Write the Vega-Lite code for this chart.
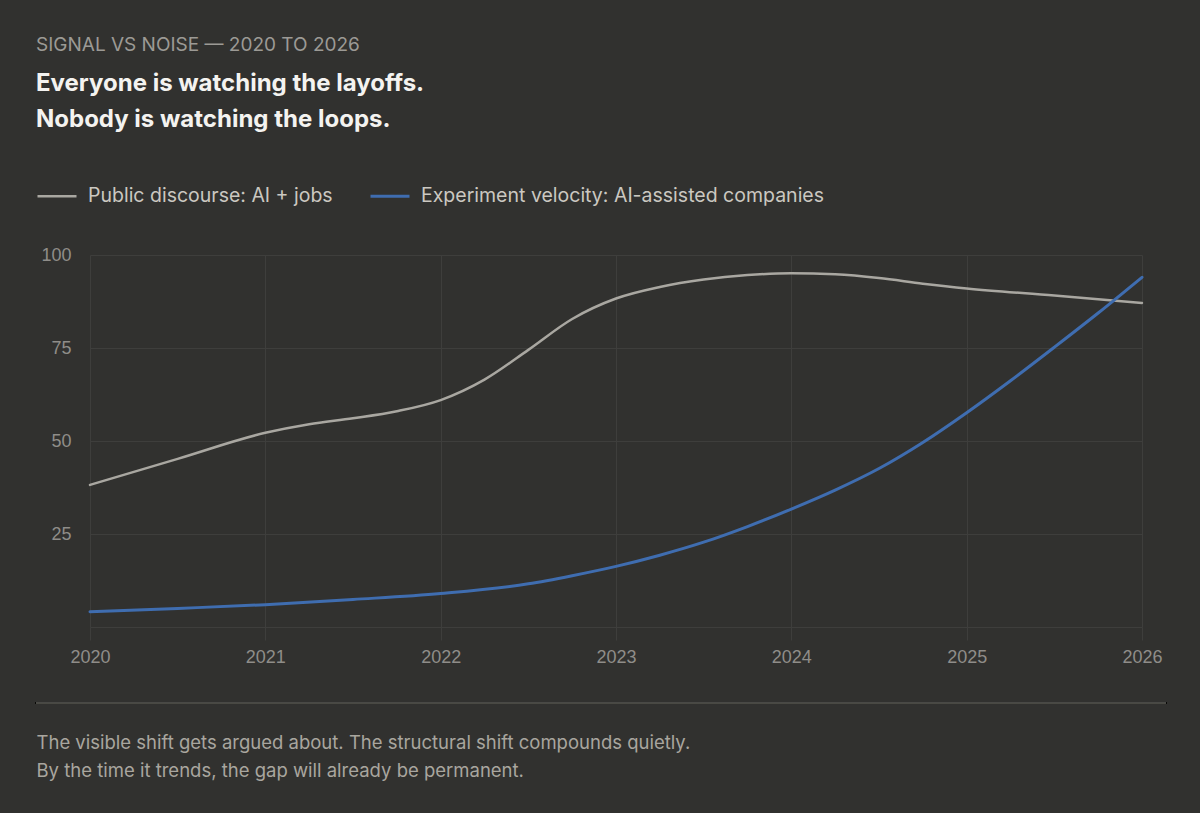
{
  "$schema": "https://vega.github.io/schema/vega-lite/v6.json",
  "description": "Public discourse on AI and jobs versus experiment velocity at AI-assisted companies, 2020 to 2026.",
  "autosize": {"type": "none"},
  "width": 1052,
  "height": 372,
  "padding": {"left": 90, "top": 255, "right": 58, "bottom": 186},
  "background": "#31312f",
  "title": {
    "text": "SIGNAL VS NOISE — 2020 TO 2026",
    "subtitle": ["Everyone is watching the layoffs.", "Nobody is watching the loops."],
    "anchor": "start",
    "frame": "group",
    "dx": -54,
    "offset": 43,
    "font": "Inter",
    "fontSize": 19,
    "fontWeight": "normal",
    "color": "#9c9a95",
    "subtitleFont": "Inter",
    "subtitleFontSize": 24,
    "subtitleFontWeight": "bold",
    "subtitleColor": "#f4f3f0",
    "subtitlePadding": 17,
    "subtitleLineHeight": 36
  },
  "data": {
    "values": [
      {"year": 2020, "series": "Public discourse: AI + jobs", "value": 38.2},
      {"year": 2020.5, "series": "Public discourse: AI + jobs", "value": 45.2},
      {"year": 2021, "series": "Public discourse: AI + jobs", "value": 52.2},
      {"year": 2021.25, "series": "Public discourse: AI + jobs", "value": 54.5},
      {"year": 2021.5, "series": "Public discourse: AI + jobs", "value": 56.1},
      {"year": 2021.75, "series": "Public discourse: AI + jobs", "value": 58},
      {"year": 2022, "series": "Public discourse: AI + jobs", "value": 61},
      {"year": 2022.25, "series": "Public discourse: AI + jobs", "value": 66.5},
      {"year": 2022.5, "series": "Public discourse: AI + jobs", "value": 74.5},
      {"year": 2022.75, "series": "Public discourse: AI + jobs", "value": 82.8},
      {"year": 2023, "series": "Public discourse: AI + jobs", "value": 88.3},
      {"year": 2023.25, "series": "Public discourse: AI + jobs", "value": 91.4},
      {"year": 2023.5, "series": "Public discourse: AI + jobs", "value": 93.4},
      {"year": 2023.75, "series": "Public discourse: AI + jobs", "value": 94.6},
      {"year": 2024, "series": "Public discourse: AI + jobs", "value": 95.1},
      {"year": 2024.25, "series": "Public discourse: AI + jobs", "value": 94.8},
      {"year": 2024.5, "series": "Public discourse: AI + jobs", "value": 93.8},
      {"year": 2024.75, "series": "Public discourse: AI + jobs", "value": 92.3},
      {"year": 2025, "series": "Public discourse: AI + jobs", "value": 91},
      {"year": 2025.5, "series": "Public discourse: AI + jobs", "value": 89.1},
      {"year": 2026, "series": "Public discourse: AI + jobs", "value": 87.1},
      {"year": 2020, "series": "Experiment velocity: AI-assisted companies", "value": 4.1},
      {"year": 2020.5, "series": "Experiment velocity: AI-assisted companies", "value": 5},
      {"year": 2021, "series": "Experiment velocity: AI-assisted companies", "value": 6},
      {"year": 2021.5, "series": "Experiment velocity: AI-assisted companies", "value": 7.4},
      {"year": 2022, "series": "Experiment velocity: AI-assisted companies", "value": 9},
      {"year": 2022.5, "series": "Experiment velocity: AI-assisted companies", "value": 11.6},
      {"year": 2022.75, "series": "Experiment velocity: AI-assisted companies", "value": 13.8},
      {"year": 2023, "series": "Experiment velocity: AI-assisted companies", "value": 16.3},
      {"year": 2023.25, "series": "Experiment velocity: AI-assisted companies", "value": 19.3},
      {"year": 2023.5, "series": "Experiment velocity: AI-assisted companies", "value": 22.8},
      {"year": 2023.75, "series": "Experiment velocity: AI-assisted companies", "value": 27},
      {"year": 2024, "series": "Experiment velocity: AI-assisted companies", "value": 31.7},
      {"year": 2024.25, "series": "Experiment velocity: AI-assisted companies", "value": 36.8},
      {"year": 2024.5, "series": "Experiment velocity: AI-assisted companies", "value": 42.6},
      {"year": 2024.75, "series": "Experiment velocity: AI-assisted companies", "value": 49.6},
      {"year": 2025, "series": "Experiment velocity: AI-assisted companies", "value": 57.6},
      {"year": 2025.25, "series": "Experiment velocity: AI-assisted companies", "value": 66.2},
      {"year": 2025.5, "series": "Experiment velocity: AI-assisted companies", "value": 75.2},
      {"year": 2025.75, "series": "Experiment velocity: AI-assisted companies", "value": 84.4},
      {"year": 2026, "series": "Experiment velocity: AI-assisted companies", "value": 94}
    ]
  },
  "layer": [
    {
      "mark": {"type": "line", "interpolate": "monotone", "strokeCap": "round"},
      "encoding": {
        "x": {
          "field": "year",
          "type": "quantitative",
          "scale": {"domain": [2020, 2026], "nice": false, "zero": false},
          "axis": {
            "values": [2020, 2021, 2022, 2023, 2024, 2025, 2026],
            "format": "d",
            "grid": true,
            "domain": false,
            "tickSize": 13,
            "labelFlush": false,
            "labelPadding": 8,
            "title": [
              "The visible shift gets argued about. The structural shift compounds quietly.",
              "By the time it trends, the gap will already be permanent."
            ],
            "titleAnchor": "start",
            "titleAlign": "left",
            "titleBaseline": "top",
            "titleX": -54,
            "titleY": 106,
            "titleFont": "Inter",
            "titleFontSize": 18.5,
            "titleFontWeight": "normal",
            "titleColor": "#a9a69f",
            "titleLineHeight": 28
          }
        },
        "y": {
          "field": "value",
          "type": "quantitative",
          "scale": {"domain": [0, 100], "nice": false},
          "axis": {
            "values": [0, 25, 50, 75, 100],
            "labelExpr": "datum.value === 0 ? '' : datum.label",
            "grid": true,
            "domain": false,
            "ticks": false,
            "labelFlush": false,
            "labelPadding": 19,
            "title": null
          }
        },
        "color": {
          "field": "series",
          "type": "nominal",
          "scale": {
            "domain": ["Public discourse: AI + jobs", "Experiment velocity: AI-assisted companies"],
            "range": ["#a9a7a1", "#3f6db0"]
          },
          "legend": {
            "orient": "none",
            "legendX": -54,
            "legendY": -80,
            "direction": "horizontal",
            "title": null,
            "symbolType": "stroke",
            "symbolSize": 1521,
            "symbolStrokeWidth": 3,
            "labelOffset": 10,
            "labelLimit": 0,
            "columnPadding": 31,
            "labelFont": "Inter",
            "labelFontSize": 19.5,
            "labelColor": "#cbc8c1"
          }
        },
        "strokeWidth": {
          "field": "series",
          "type": "nominal",
          "scale": {
            "domain": ["Public discourse: AI + jobs", "Experiment velocity: AI-assisted companies"],
            "range": [2.5, 3]
          },
          "legend": null
        }
      }
    },
    {
      "mark": {"type": "rule", "color": "#4a4a47", "strokeWidth": 1},
      "encoding": {
        "x": {"datum": 2019.692, "type": "quantitative"},
        "x2": {"datum": 2026.137},
        "y": {"datum": -20.4, "type": "quantitative"}
      }
    }
  ],
  "config": {
    "view": {"stroke": null},
    "axis": {
      "gridColor": "#3e3e3c",
      "tickColor": "#3e3e3c",
      "labelFont": "Liberation Sans",
      "labelFontSize": 18,
      "labelColor": "#8f8d89"
    }
  }
}
